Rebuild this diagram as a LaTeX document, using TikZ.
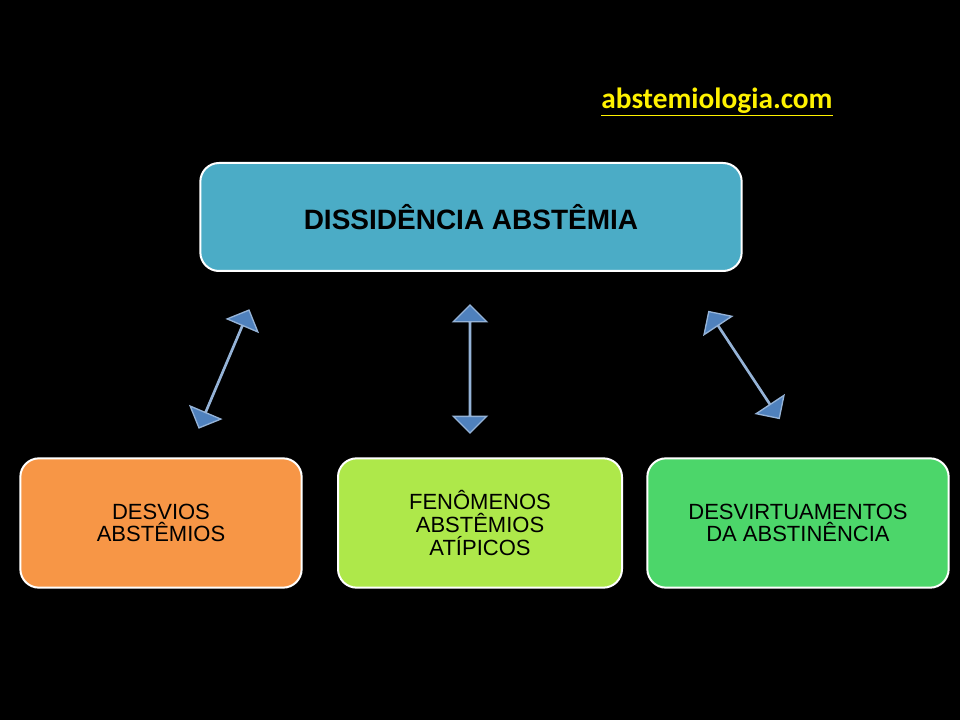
\documentclass[tikz,border=0pt]{standalone}
\usepackage{fontspec}
\setmainfont{Liberation Sans}
\newfontfamily\webfont{Carlito}
\usetikzlibrary{shapes.arrows}
\definecolor{topc}{HTML}{4BACC6}
\definecolor{orc}{HTML}{F79646}
\definecolor{lgc}{HTML}{AEE84A}
\definecolor{gc}{HTML}{4CD66A}
\definecolor{arc}{HTML}{4F81BD}
\begin{document}
\begin{tikzpicture}[x=0.75pt,y=-0.75pt,
  box/.style={draw=white,line width=1.5pt,rounded corners=14pt,text=black,align=center,inner sep=0pt},
  darr/.style={double arrow,draw=arc!60!white,line width=1pt,fill=arc,minimum width=16pt,double arrow head extend=12pt,minimum height=96pt,inner sep=0pt}]
\fill[black] (0,0) rectangle (960,720);
\node[font=\webfont\bfseries\fontsize{22}{26}\selectfont,text=yellow] (web) at (717,102) {\underline{abstemiologia.com}};
\node[box,fill=topc,minimum width=406pt,minimum height=81pt,font=\bfseries\fontsize{21}{25}\selectfont] (top) at (471,217) {DISSIDÊNCIA ABSTÊMIA};
\node[box,fill=orc,minimum width=211pt,minimum height=97pt,font=\fontsize{16.5}{17}\selectfont] (b1) at (161,523) {DESVIOS\\ABSTÊMIOS};
\node[box,fill=lgc,minimum width=213pt,minimum height=97pt,font=\fontsize{16.5}{17}\selectfont] (b2) at (480,523) {FENÔMENOS\\ABSTÊMIOS\\ATÍPICOS};
\node[box,fill=gc,minimum width=226pt,minimum height=97pt,font=\fontsize{16.5}{17}\selectfont] (b3) at (798,523) {DESVIRTUAMENTOS\\DA ABSTINÊNCIA};
\node[darr,rotate=67] (a1) at (224,369) {};
\node[darr,rotate=90] (a2) at (470,369) {};
\node[darr,rotate=123.4] (a3) at (744,365) {};
\end{tikzpicture}
\end{document}
